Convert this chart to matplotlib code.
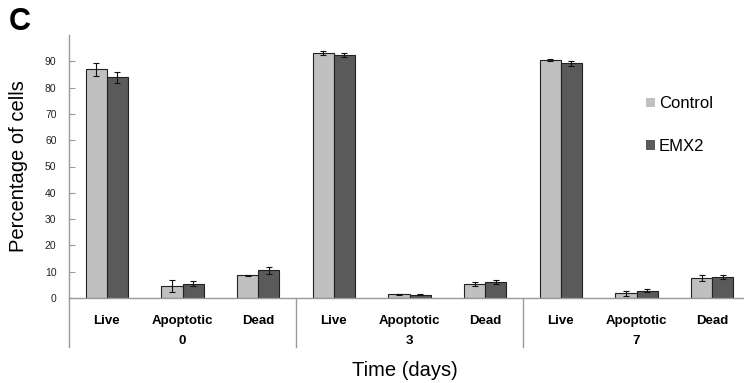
import numpy as np
import matplotlib
matplotlib.use("Agg")
import matplotlib.pyplot as plt
from matplotlib.patches import Patch

plt.rcParams.update({"font.family": ["Liberation Sans", "DejaVu Sans"]})

days = ["0", "3", "7"]
states = ["Live", "Apoptotic", "Dead"]
control = [86.9, 4.6, 8.6, 93.2, 1.5, 5.4, 90.6, 1.8, 7.6]
control_err = [2.4, 2.4, 0.3, 0.9, 0.2, 0.8, 0.3, 0.9, 1.2]
emx2 = [83.9, 5.4, 10.6, 92.4, 1.3, 6.1, 89.3, 2.8, 7.9]
emx2_err = [2.2, 1.0, 1.3, 0.7, 0.2, 0.7, 1.0, 0.5, 0.7]

C_CTRL, C_EMX = "#c0c0c0", "#5a5a5a"
AX_GREY = "#9a9a9a"

fig = plt.figure(figsize=(7.44, 3.83), dpi=100)
ax = fig.add_axes([69 / 744, 85 / 383, 675 / 744, 263 / 383])

x = np.arange(len(control))
w = 0.28
ax.bar(x - w / 2, control, w, yerr=control_err, color=C_CTRL, edgecolor="#222222",
       lw=0.8, capsize=2, error_kw=dict(lw=0.8, capthick=0.8, ecolor="#111111"),
       label="Control")
ax.bar(x + w / 2, emx2, w, yerr=emx2_err, color=C_EMX, edgecolor="#222222",
       lw=0.8, capsize=2, error_kw=dict(lw=0.8, capthick=0.8, ecolor="#111111"),
       label="EMX2")

ax.set_xlim(-0.5, 8.42)
ax.set_ylim(0, 100)
ax.set_yticks(range(0, 100, 10))
ax.tick_params(axis="y", direction="in", length=4, width=0.8, color=AX_GREY,
               labelsize=7.5, labelcolor="#222222", pad=9)
ax.set_xticks(x)
ax.set_xticklabels(states * len(days), fontsize=9.5, fontweight="bold")
ax.tick_params(axis="x", length=0, pad=12)
for s in ["top", "right"]:
    ax.spines[s].set_visible(False)
for s in ["left", "bottom"]:
    ax.spines[s].set_color(AX_GREY)
    ax.spines[s].set_linewidth(1.0)

# group separators and day labels
for sep in [-0.5, 2.5, 5.5]:
    ax.axvline(sep, ymin=-0.186, ymax=0, color=AX_GREY, lw=1.0, clip_on=False)
trans = ax.get_xaxis_transform()
for g, d in enumerate(days):
    ax.text(3 * g + 1, -0.165, d, transform=trans, ha="center", va="center",
            fontsize=9.5, fontweight="bold")

ax.set_ylabel("Percentage of cells", fontsize=14.5)
ax.yaxis.set_label_coords(-0.06, 0.5)
fig.text(405 / 744, 1 - 371 / 383, "Time (days)", ha="center", va="center",
         fontsize=14.5)
fig.text(9 / 744, 1 - 22 / 383, "C", ha="left", va="center", fontsize=22,
         fontweight="bold")

handles = [Patch(facecolor=C_CTRL, edgecolor="none"),
           Patch(facecolor=C_EMX, edgecolor="none")]
fig.legend(handles, ["Control", "EMX2"], loc="upper left",
           bbox_to_anchor=(638 / 744, 1 - 88 / 383), frameon=False,
           fontsize=12, handlelength=0.5, handleheight=0.5,
           handletextpad=0.25, labelspacing=1.65, borderpad=0)

fig.savefig("out.png", dpi=100)
